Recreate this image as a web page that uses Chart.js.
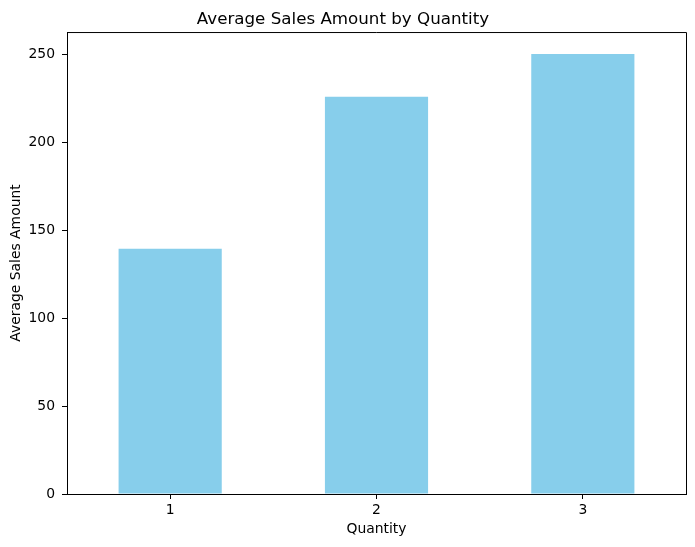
<!DOCTYPE html>
<html>
<head>
<meta charset="utf-8">
<script src="https://cdn.jsdelivr.net/npm/chart.js@4"></script>
<style>
  html, body { margin: 0; padding: 0; background: #fff; }
  #wrap { width: 695px; height: 547px; }
</style>
</head>
<body>
<div id="wrap"><canvas id="graphCanvas"></canvas></div>
<script>
var quantities = ['1', '2', '3'];
var avgSales = [139.4, 225.7, 250.0];
var yTicks = [0, 50, 100, 150, 200, 250];

// draws the top and right spines like matplotlib
var boxPlugin = {
    id: 'box',
    afterDraw: function (chart) {
        var a = chart.chartArea, ctx = chart.ctx;
        ctx.save();
        ctx.strokeStyle = '#000';
        ctx.lineWidth = 1;
        ctx.beginPath();
        ctx.moveTo(a.left, a.top + 0.5);
        ctx.lineTo(a.right + 0.5, a.top + 0.5);
        ctx.lineTo(a.right + 0.5, a.bottom);
        ctx.stroke();
        ctx.restore();
    }
};

Chart.defaults.font.family = '"DejaVu Sans", sans-serif';
Chart.defaults.color = '#000';

new Chart(document.getElementById('graphCanvas'), {
    type: 'bar',
    data: {
        labels: quantities,
        datasets: [{
            label: 'Average Sales Amount',
            data: avgSales,
            backgroundColor: '#87CEEB',
            barPercentage: 0.5,
            categoryPercentage: 1.0
        }]
    },
    options: {
        responsive: true,
        maintainAspectRatio: false,
        animation: false,
        layout: { padding: { right: 9, left: 0, top: 0, bottom: 0 } },
        plugins: {
            legend: { display: false },
            tooltip: { enabled: false },
            title: {
                display: true,
                text: 'Average Sales Amount by Quantity',
                font: { size: 16.7, weight: 'normal' },
                color: '#000',
                padding: { top: 10, bottom: 2 }
            }
        },
        scales: {
            x: {
                grid: { display: true, offset: false, drawOnChartArea: false, drawTicks: true, tickLength: 5, color: '#000' },
                border: { display: true, color: '#000', width: 1 },
                ticks: { font: { size: 13.9 }, padding: 3, maxRotation: 0 },
                title: { display: true, text: 'Quantity', font: { size: 13.9 }, padding: { bottom: 9 } },
                afterFit: function (scale) { scale.height = 53; }
            },
            y: {
                min: 0,
                max: 262.5,
                grid: { display: true, drawOnChartArea: false, drawTicks: true, tickLength: 5, color: '#000' },
                border: { display: true, color: '#000', width: 1 },
                ticks: {
                    font: { size: 13.9 },
                    padding: 7,
                    stepSize: 50,
                    includeBounds: false
                },
                afterBuildTicks: function (scale) {
                    scale.ticks = yTicks.map(function (v) { return { value: v }; });
                },
                title: { display: true, text: 'Average Sales Amount', font: { size: 13.9 }, padding: { top: 8 } },
                afterFit: function (scale) { scale.width = 67; }
            }
        }
    },
    plugins: [boxPlugin]
});
</script>
</body>
</html>
